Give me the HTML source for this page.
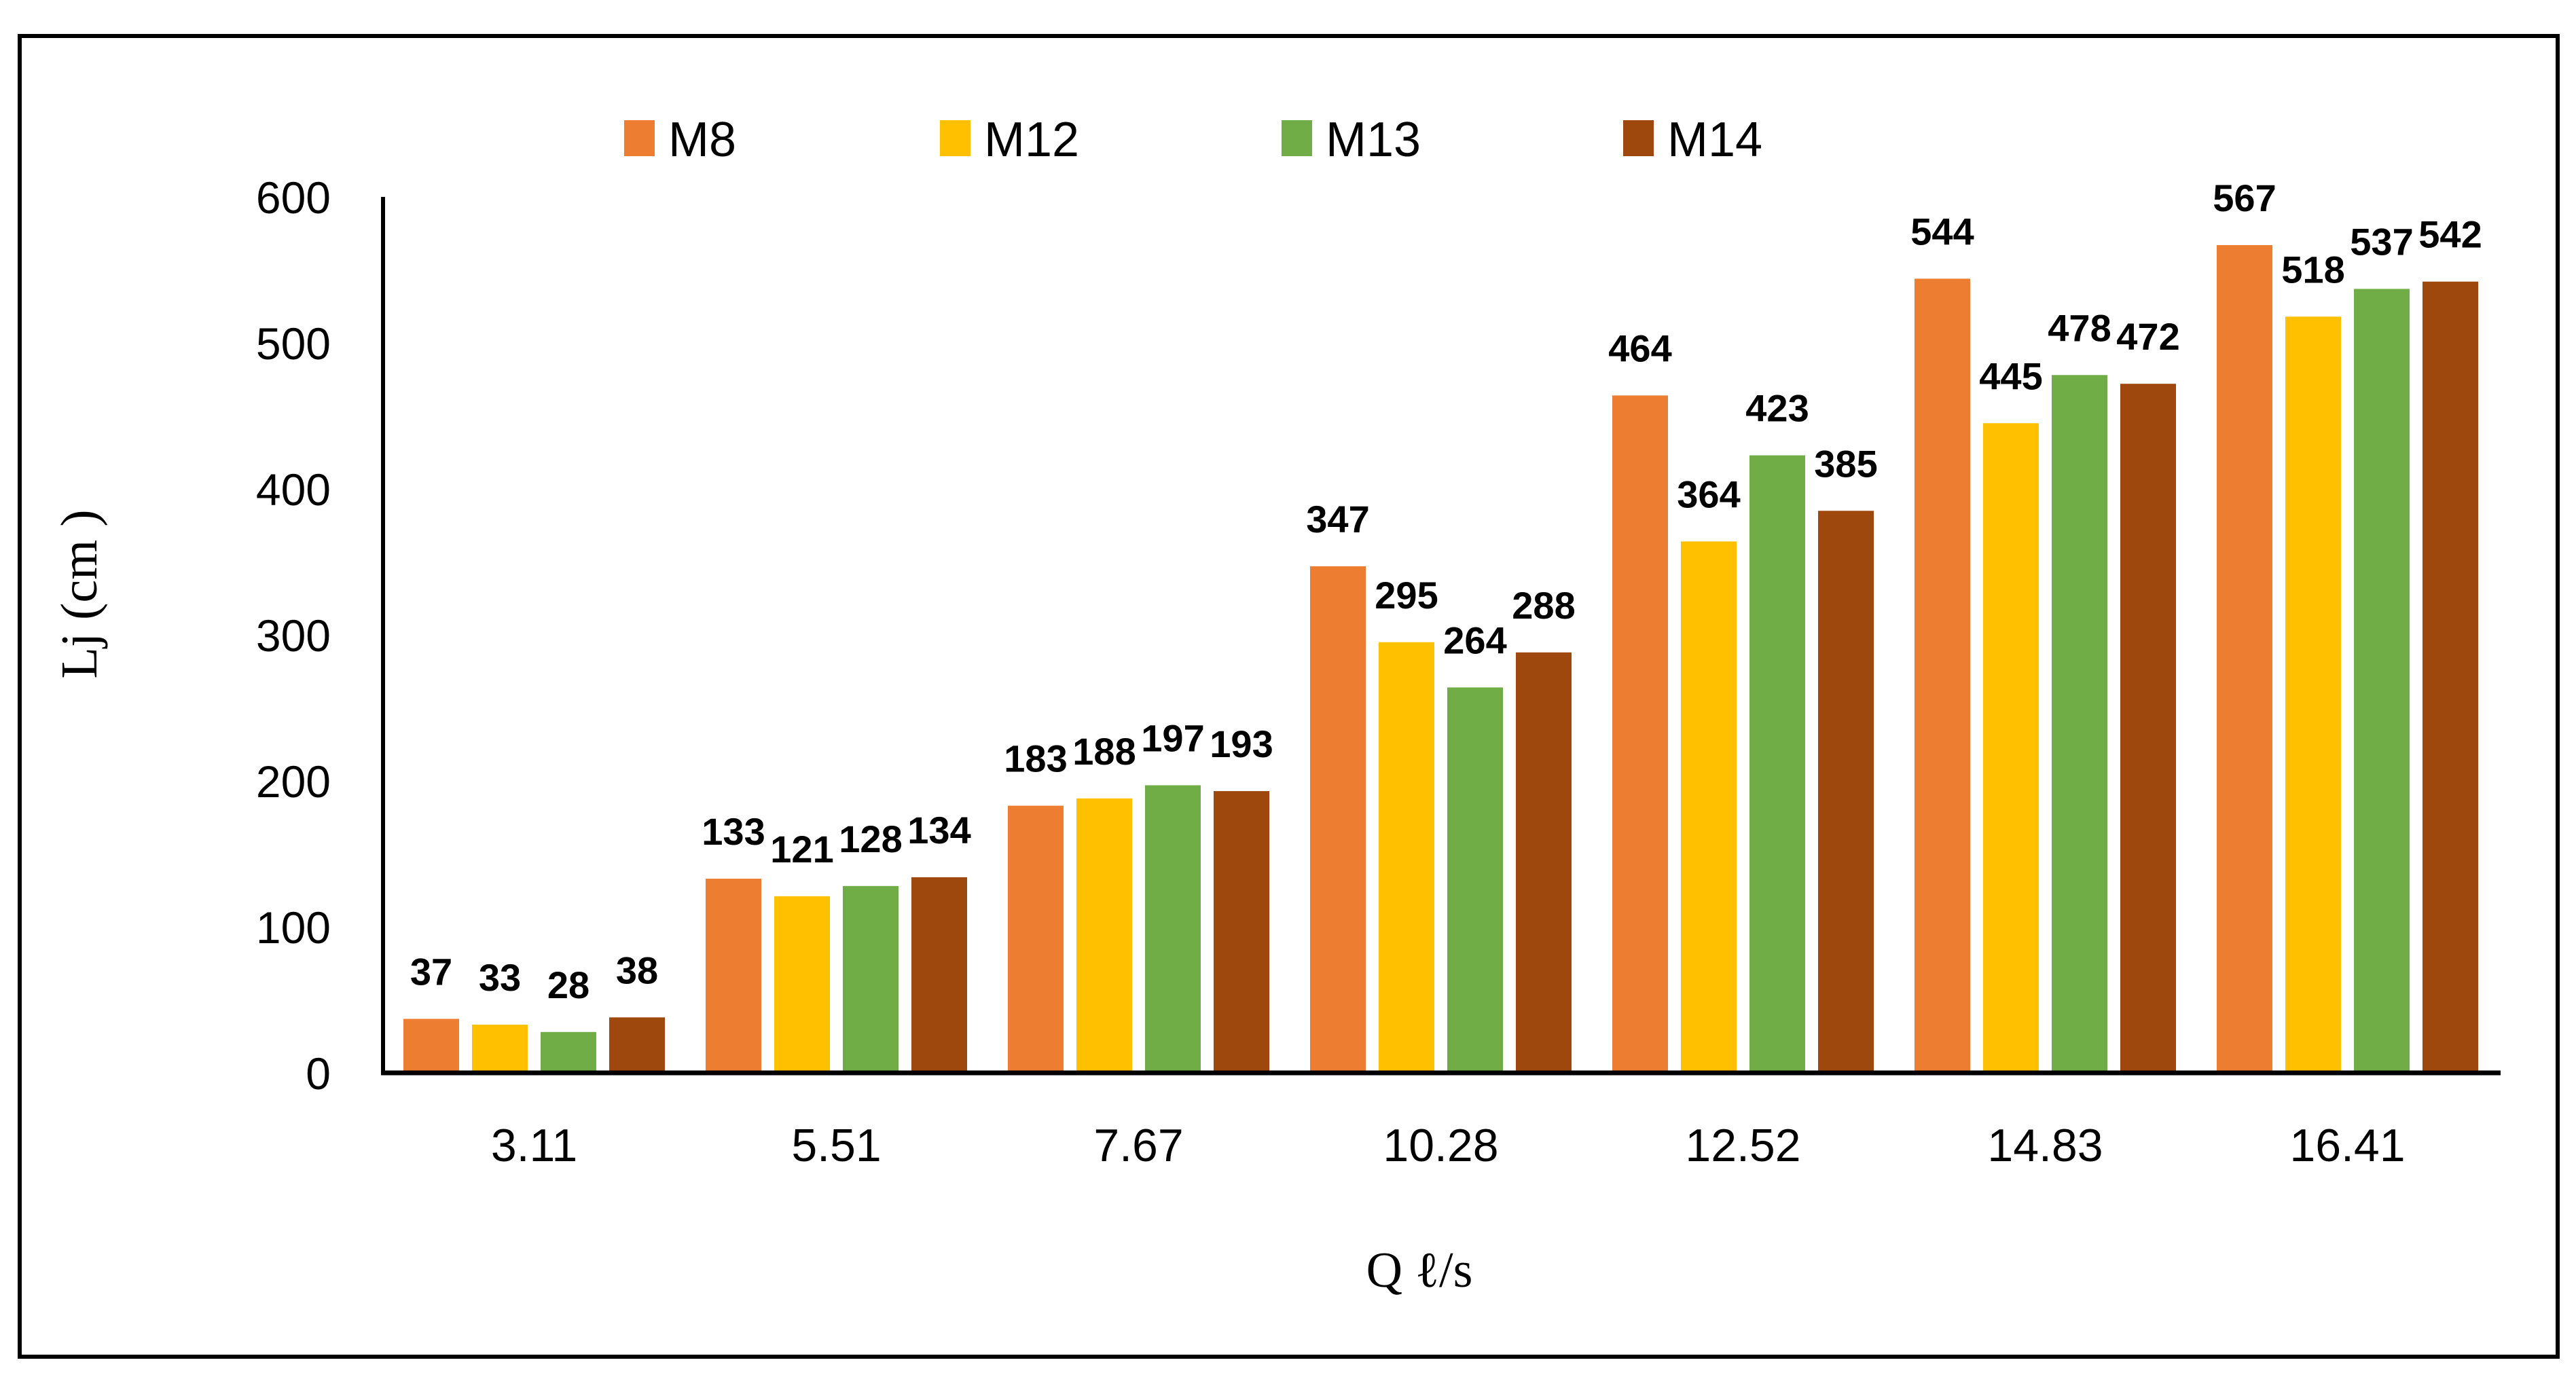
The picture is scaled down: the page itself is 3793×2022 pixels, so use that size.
<!DOCTYPE html>
<html><head><meta charset="utf-8"><style>
html,body{margin:0;padding:0;background:#fff;}
svg{display:block;}
text{font-family:"Liberation Sans",sans-serif;}
</style></head><body>
<svg id="chart" width="3793" height="2022" viewBox="0 0 3793 2022" xmlns="http://www.w3.org/2000/svg">
<rect x="29" y="53" width="3737" height="1945" fill="#fff" stroke="#000" stroke-width="6"/>
<g id="legend"></g>
<g id="bars"></g>
<g id="labels"></g>
<g id="yticks"></g>
<g id="xticks"></g>
<line x1="564" y1="290" x2="564" y2="1583" stroke="#000" stroke-width="6"/>
<line x1="561" y1="1580" x2="3682" y2="1580" stroke="#000" stroke-width="7"/>
<text transform="translate(142,875) rotate(-90)" text-anchor="middle" font-size="76" style="font-family:'Liberation Serif',serif">Lj (cm )</text>
<text x="2090" y="1895" text-anchor="middle" font-size="74" style="font-family:'Liberation Serif',serif">Q  ℓ/s</text>
</svg>
<script>
const categories = ["3.11","5.51","7.67","10.28","12.52","14.83","16.41"];
const seriesNames = ["M8","M12","M13","M14"];
const M8 = [37,133,183,347,464,544,567];
const M12 = [33,121,188,295,364,445,518];
const M13 = [28,128,197,264,423,478,537];
const M14 = [38,134,193,288,385,472,542];
const yTicks = [0,100,200,300,400,500,600];
const colors = ["#ED7D31","#FFC000","#70AD47","#9E480E"];
const series = [M8,M12,M13,M14];
const NS = "http://www.w3.org/2000/svg";
const X0 = 564, X1 = 3679, Y0 = 1580, Y1 = 290, YMAX = 600;
const groupW = (X1 - X0) / categories.length;
const barW = 82, pitch = 101;
function y(v){ return Y0 - (v / YMAX) * (Y0 - Y1); }
function xc(i){ return X0 + groupW * (i + 0.5); }
function xb(i, s){ return xc(i) - (pitch * 4 - (pitch - barW)) / 2 + s * pitch; }
function mk(tag, attrs, parent){ const e = document.createElementNS(NS, tag); for (const k in attrs) e.setAttribute(k, attrs[k]); parent.appendChild(e); return e; }
const gBars = document.getElementById('bars'), gLab = document.getElementById('labels');
series.forEach((vals, s) => {
  vals.forEach((v, i) => {
    const r = mk('rect', {x: xb(i, s), y: y(v), width: barW, height: Y0 - y(v), fill: colors[s]}, gBars);
    
    
    const t = mk('text', {x: xb(i, s) + barW / 2, y: y(v) - 50, 'text-anchor': 'middle', 'font-size': '56', 'font-weight': 'bold'}, gLab);
    t.textContent = v;
    
    
  });
});
const gY = document.getElementById('yticks');
yTicks.forEach(v => {
  const t = mk('text', {x: 487, y: y(v) + 24, 'text-anchor': 'end', 'font-size': '66'}, gY);
  t.textContent = v;
  
  
});
const gX = document.getElementById('xticks');
categories.forEach((c, i) => {
  const t = mk('text', {x: xc(i), y: 1710, 'text-anchor': 'middle', 'font-size': '68'}, gX);
  t.textContent = c;
  
  
});
const gL = document.getElementById('legend');
const legX = [919, 1384, 1887, 2390];
seriesNames.forEach((n, s) => {
  const r = mk('rect', {x: legX[s], y: 177, width: 45, height: 53, fill: colors[s]}, gL);
  
  
  const t = mk('text', {x: legX[s] + 65, y: 230, 'font-size': '72'}, gL);
  t.textContent = n;
  
  
});
</script>
</body></html>
